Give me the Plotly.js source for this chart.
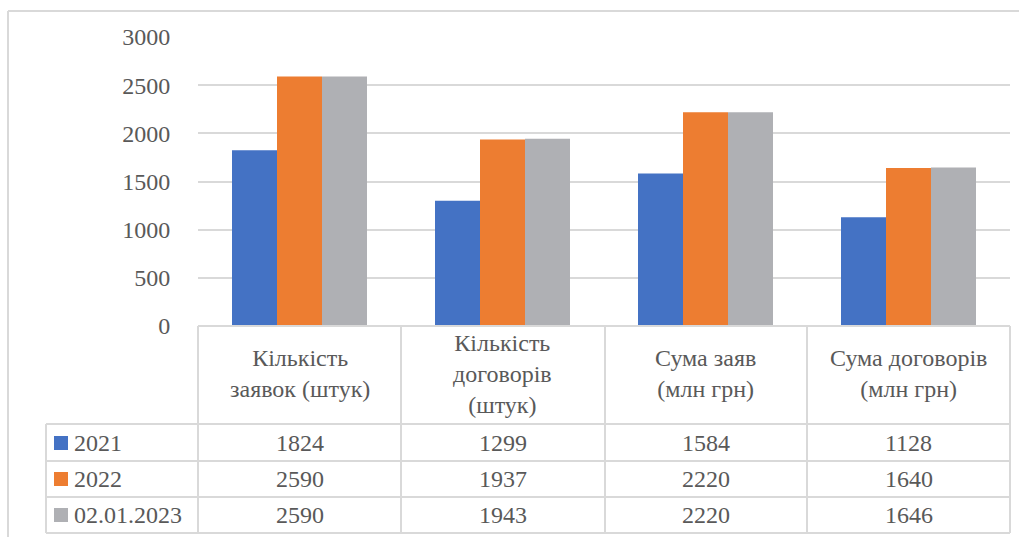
<!DOCTYPE html>
<html>
<head>
<meta charset="utf-8">
<script src="https://cdn.plot.ly/plotly-3.0.1.min.js"></script>
</head>
<body style="margin:0;padding:0;background:#fff">
<div id="chart"></div>
<script>
// ---- data ----
const categories = ["Кількість заявок (штук)", "Кількість договорів (штук)", "Сума заяв (млн грн)", "Сума договорів (млн грн)"];
const categoryLabels = ["Кількість<br>заявок (штук)", "Кількість<br>договорів<br>(штук)", "Сума заяв<br>(млн грн)", "Сума договорів<br>(млн грн)"];
const seriesNames = ["2021", "2022", "02.01.2023"];
const values2021 = [1824, 1299, 1584, 1128];
const values2022 = [2590, 1937, 2220, 1640];
const values2023 = [2590, 1943, 2220, 1646];
const yTicks = [0, 500, 1000, 1500, 2000, 2500, 3000];

const seriesValues = [values2021, values2022, values2023];
const colors = ["#4472C4", "#ED7D31", "#AFB0B4"];
const textColor = "#595959";
const lineColor = "#D9D9D9";

// ---- geometry helpers (pixel -> paper) ----
const W = 1019, H = 537;
const mL = 198, mR = W - 1010, mT = 37, mB = H - 326;
const pw = W - mL - mR, ph = H - mT - mB;
const px = x => (x - mL) / pw;
const py = y => (H - mB - y) / ph;

const traces = seriesNames.map((name, i) => ({
  type: "bar",
  name: name,
  x: categories,
  y: seriesValues[i],
  marker: {color: colors[i]}
}));

const shapes = [];
const annotations = [];
function hline(x0, x1, y) {
  shapes.push({type: "line", xref: "paper", yref: "paper", x0: px(x0), x1: px(x1), y0: py(y), y1: py(y), line: {color: lineColor, width: 2}});
}
function vline(x, y0, y1) {
  shapes.push({type: "line", xref: "paper", yref: "paper", x0: px(x), x1: px(x), y0: py(y0), y1: py(y1), line: {color: lineColor, width: 2}});
}

// outer chart border
hline(8, 1019, 11);
vline(8, 11, 537);

// table grid
const colEdges = [198, 401, 605, 807, 1010];
const rowEdges = [424, 461, 497, 533];
hline(198, 1010, 326);
rowEdges.forEach(y => hline(46, 1010, y));
colEdges.forEach(x => vline(x, 326, 533));
vline(46, 424, 533);

// header labels
categories.forEach((c, j) => {
  annotations.push({xref: "x", yref: "paper", x: c, y: py(374), text: categoryLabels[j], showarrow: false,
    align: "center", xanchor: "center", yanchor: "middle"});
});

// rows
const rowCenters = [443, 479, 515];
seriesNames.forEach((name, i) => {
  const yc = rowCenters[i];
  shapes.push({type: "rect", xref: "paper", yref: "paper", x0: px(54), x1: px(68), y0: py(yc - 7), y1: py(yc + 7),
    fillcolor: colors[i], line: {width: 0}});
  annotations.push({xref: "paper", yref: "paper", x: px(72), y: py(yc), text: name, showarrow: false,
    xanchor: "left", yanchor: "middle"});
  categories.forEach((c, j) => {
    annotations.push({xref: "x", yref: "paper", x: c, y: py(yc), text: String(seriesValues[i][j]), showarrow: false,
      xanchor: "center", yanchor: "middle"});
  });
});

const layout = {
  width: W, height: H,
  margin: {l: mL, r: mR, t: mT, b: mB, pad: 0},
  showlegend: false,
  barmode: "group",
  bargap: 0.335,
  bargroupgap: 0,
  font: {family: "Liberation Serif", size: 24, color: textColor},
  xaxis: {showticklabels: false, showgrid: false, zeroline: false, showline: false, ticks: ""},
  yaxis: {range: [0, 3000], tickvals: yTicks, showgrid: true, gridcolor: lineColor, gridwidth: 2,
    zeroline: false, showline: false, ticks: "outside", ticklen: 22, tickcolor: "rgba(0,0,0,0)"},
  shapes: shapes,
  annotations: annotations
};

Plotly.newPlot("chart", traces, layout, {displayModeBar: false});
</script>
</body>
</html>
